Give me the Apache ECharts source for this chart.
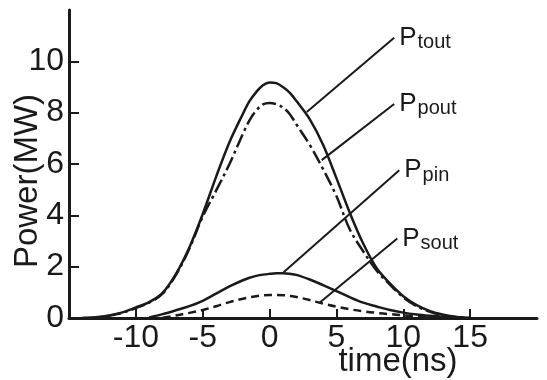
<!DOCTYPE html>
<html>
<head>
<meta charset="utf-8">
<script src="https://cdn.jsdelivr.net/npm/echarts@6/dist/echarts.min.js"></script>
<style>
html, body { margin: 0; background: #fff; }
#chart { width: 547px; height: 380px; }
</style>
</head>
<body>
<div id="chart"></div>
<script>
// time axis (ns) and power curves (MW)
var times = [-14, -13, -12, -11, -10, -9, -8, -7, -6, -5, -4, -3, -2, -1.5, -1, -0.5, 0, 0.5, 1, 1.5, 2, 3, 4, 5, 6, 7, 8, 9, 10, 11, 12, 13, 14, 15, 16];
var pTout = [0, 0.03, 0.1, 0.22, 0.41, 0.62, 0.98, 1.72, 2.75, 4.05, 5.5, 6.85, 7.95, 8.45, 8.8, 9.07, 9.18, 9.15, 9.0, 8.78, 8.46, 7.75, 6.75, 5.45, 4.1, 2.9, 1.95, 1.35, 0.85, 0.5, 0.27, 0.13, 0.04, 0, null];
var pPout = [0, 0.02, 0.09, 0.2, 0.39, 0.6, 0.95, 1.68, 2.7, 3.95, 4.96, 6.0, 7.17, 7.7, 8.08, 8.32, 8.38, 8.33, 8.2, 7.95, 7.55, 6.75, 5.8, 4.75, 3.45, 2.6, 1.85, 1.3, 0.8, 0.46, 0.24, 0.1, 0.03, 0, null];
var pPin = [null, null, null, null, null, 0.02, 0.15, 0.3, 0.46, 0.67, 0.95, 1.23, 1.47, 1.57, 1.64, 1.69, 1.72, 1.74, 1.74, 1.72, 1.68, 1.5, 1.28, 1.05, 0.81, 0.6, 0.45, 0.31, 0.21, 0.14, 0.09, 0.05, 0.02, 0, null];
var pSout = [null, null, null, null, null, null, 0.01, 0.1, 0.2, 0.31, 0.46, 0.62, 0.75, 0.81, 0.85, 0.88, 0.9, 0.9, 0.89, 0.86, 0.82, 0.7, 0.56, 0.44, 0.34, 0.26, 0.2, 0.15, 0.1, 0.05, 0.02, 0, null, null, null];

var xTicks = [-10, -5, 0, 5, 10, 15];
var yTicks = [0, 2, 4, 6, 8, 10];

// leader lines (data coords) and label subscripts, same order as the series
var leaderFrom = [[2.78, 8.03], [3.9, 6.15], [1.05, 1.78], [3.76, 0.6]];
var leaderTo = [[9.32, 10.92], [9.32, 8.34], [9.7, 5.76], [9.55, 3.1]];
var subs = ['tout', 'pout', 'pin', 'sout'];

var ink = '#1a1a1a';
var font = '"Liberation Sans", Arial, sans-serif';

function pairs(vals) {
    return times.map(function (t, i) { return [t, vals[i]]; });
}

function curve(vals, i, type) {
    return {
        type: 'line',
        data: pairs(vals),
        smooth: 0.35,
        showSymbol: false,
        connectNulls: false,
        lineStyle: { color: ink, width: 2.5, type: type },
        markLine: {
            silent: true,
            symbol: 'none',
            lineStyle: { color: ink, width: 2, type: 'solid' },
            label: { show: false },
            data: [[{ coord: leaderFrom[i] }, { coord: leaderTo[i] }]]
        },
        markPoint: {
            silent: true,
            symbol: 'circle',
            symbolSize: 0,
            label: {
                show: true,
                position: 'right',
                distance: 5,
                formatter: '{p|P}{s|' + subs[i] + '}',
                rich: {
                    p: { fontFamily: font, fontSize: 26, color: ink },
                    s: { fontFamily: font, fontSize: 20, color: ink, padding: [10, 0, 0, 1] }
                }
            },
            data: [{ coord: leaderTo[i] }]
        }
    };
}

var chart = echarts.init(document.getElementById('chart'));
chart.setOption({
    animation: false,
    backgroundColor: '#fff',
    grid: { left: 69, right: 10, top: 10, bottom: 62 },
    xAxis: {
        type: 'value',
        min: -15,
        max: 20,
        interval: 5,
        axisLine: { onZero: false, lineStyle: { color: ink, width: 3 } },
        axisTick: { inside: true, length: 9, lineStyle: { width: 2 }, customValues: xTicks },
        axisLabel: { customValues: xTicks, margin: 4, color: ink, fontFamily: font, fontSize: 32 },
        splitLine: { show: false }
    },
    yAxis: {
        type: 'value',
        min: 0,
        max: 12,
        interval: 2,
        axisLine: { show: true, onZero: false, lineStyle: { color: ink, width: 3 } },
        axisTick: { show: true, inside: true, length: 10, lineStyle: { width: 2 }, customValues: yTicks },
        axisLabel: { customValues: yTicks, margin: 5, color: ink, fontFamily: font, fontSize: 32 },
        splitLine: { show: false }
    },
    graphic: [
        {
            type: 'text', x: 28, y: 181, rotation: Math.PI / 2,
            style: { text: 'Power(MW)', font: '33px ' + font, fill: ink, align: 'center', verticalAlign: 'middle' }
        },
        {
            type: 'text', x: 398, y: 362,
            style: { text: 'time(ns)', font: '33px ' + font, fill: ink, align: 'center', verticalAlign: 'middle' }
        }
    ],
    series: [
        curve(pTout, 0, 'solid'),
        curve(pPout, 1, [14, 4, 3, 4]),
        curve(pPin, 2, 'solid'),
        curve(pSout, 3, [8, 5])
    ]
});
</script>
</body>
</html>
